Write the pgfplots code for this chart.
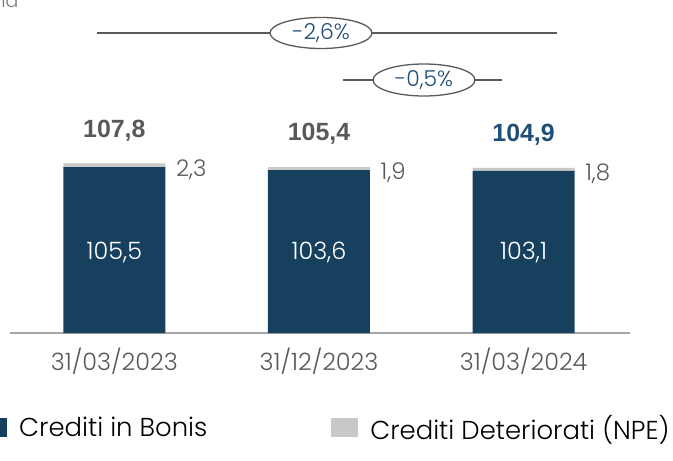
\documentclass[border=0pt]{standalone}
\usepackage{fontspec}
\setmainfont{Poppins Light}
\newfontfamily\boldsans{Liberation Sans}
\usepackage{pgfplots}
\pgfplotsset{compat=1.18}
\definecolor{bonis}{HTML}{17405F}
\definecolor{npe}{HTML}{C8C8C8}
\definecolor{txt}{HTML}{595959}
\definecolor{pct}{HTML}{1F4E79}
\definecolor{rulec}{HTML}{5A5A5A}
\definecolor{basec}{HTML}{A6A6A6}

\begin{document}
\begin{tikzpicture}
\useasboundingbox (0bp,0bp) rectangle (673bp,461bp);
\begin{axis}[
  at={(10bp,128bp)}, anchor=south west,
  scale only axis, width=620bp, height=333bp,
  xmin=-0.51, xmax=2.52, ymin=0, ymax=211.7,
  ybar stacked, bar width=102bp,
  axis x line=bottom, axis y line=none,
  x axis line style={draw=basec, line width=1.2pt, -},
  xtick={0,1,2},
  xticklabels={31/03/2023,31/12/2023,31/03/2024},
  major tick length=0pt,
  xticklabel style={font=\fontsize{24}{24}\selectfont, text=txt, yshift=-12bp},
  ytick=\empty,
  clip=false,
  legend style={at={(-0.0484,-0.285)}, anchor=west, draw=none, fill=none,
    inner sep=0pt, legend columns=2,
    font=\fontsize{26}{26}\selectfont, text=black,
    /tikz/every odd column/.append style={column sep=10bp},
    /tikz/every even column/.append style={column sep=122bp}},
  legend cell align=left,
  legend image code/.code={\fill[#1] (0bp,-9bp) rectangle (27bp,10bp);},
]
\addplot[fill=bonis, draw=none] coordinates {(0,105.5) (1,103.6) (2,103.1)};
\addplot[fill=npe, draw=none] coordinates {(0,2.3) (1,1.9) (2,1.8)};
\legend{Crediti in Bonis, Crediti Deteriorati (NPE)}

% anchor points for the values written inside the bars
\coordinate (in0) at (axis cs:0,50.9);
\coordinate (in1) at (axis cs:1,50.9);
\coordinate (in2) at (axis cs:2,50.9);
% NPE values beside the bars
\node[anchor=west, text=txt, font=\fontsize{23}{23}\selectfont, xshift=7bp, yshift=-6bp] at (axis cs:0.25,107.8) {2,3};
\node[anchor=west, text=txt, font=\fontsize{23}{23}\selectfont, xshift=7bp, yshift=-6bp] at (axis cs:1.25,105.5) {1,9};
\node[anchor=west, text=txt, font=\fontsize{23}{23}\selectfont, xshift=7bp, yshift=-6bp] at (axis cs:2.25,104.9) {1,8};
% totals
\node[text=txt, font=\boldsans\bfseries\fontsize{25}{25}\selectfont, yshift=33bp] at (axis cs:0,107.8) {107,8};
\node[text=txt, font=\boldsans\bfseries\fontsize{25}{25}\selectfont, yshift=33bp] at (axis cs:1,105.5) {105,4};
\node[text=pct, font=\boldsans\bfseries\fontsize{25}{25}\selectfont, yshift=33bp] at (axis cs:2,104.9) {104,9};
\end{axis}

% values inside the performing-loan bars
\node[text=white, font=\fontsize{24}{24}\selectfont] at (in0) {105,5};
\node[text=white, font=\fontsize{24}{24}\selectfont] at (in1) {103,6};
\node[text=white, font=\fontsize{24}{24}\selectfont] at (in2) {103,1};

% unit caption, cut by the top edge
\node[anchor=base east, text=txt!80, font=\fontsize{19}{19}\selectfont] at (22bp,453bp) {€ mld};

% change brackets
\draw[rulec, line width=1.3pt] (97bp,428bp) -- (557bp,428bp);
\draw[rulec, line width=1.3pt, fill=white] (321bp,428bp) ellipse [x radius=51bp, y radius=15.5bp];
\node[text=pct, font=\fontsize{22}{22}\selectfont] at (321bp,428bp) {-2,6\%};
\draw[rulec, line width=1.3pt] (343bp,381bp) -- (502bp,381bp);
\draw[rulec, line width=1.3pt, fill=white] (424bp,381bp) ellipse [x radius=51bp, y radius=16bp];
\node[text=pct, font=\fontsize{22}{22}\selectfont] at (424bp,381bp) {-0,5\%};
\end{tikzpicture}
\end{document}
